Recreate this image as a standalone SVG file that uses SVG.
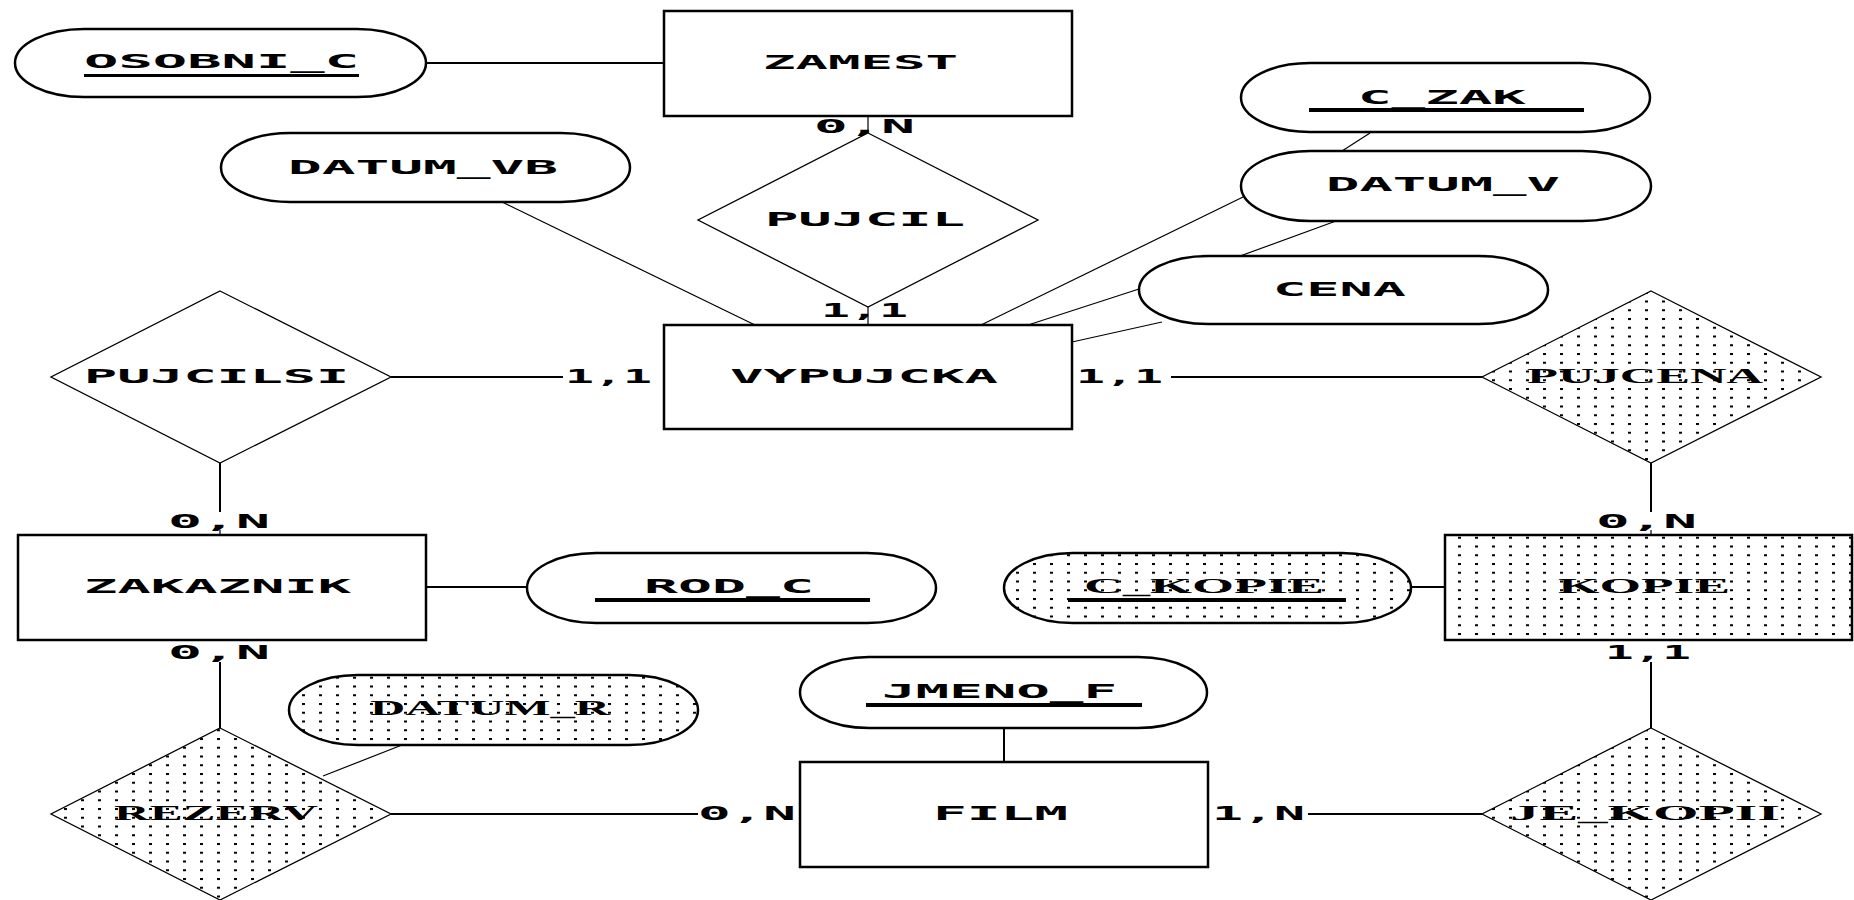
<svg xmlns="http://www.w3.org/2000/svg" width="1854" height="900" viewBox="0 0 1854 900">
<defs>
<pattern id="dots" x="13" y="3" width="17" height="8.75" patternUnits="userSpaceOnUse"><rect x="0" y="0" width="3" height="2" fill="#000"/></pattern>
<style>
.ent{fill:#fff;stroke:#000;stroke-width:2.5}
.entd{fill:url(#dots);stroke:#000;stroke-width:2.5}
.rel{fill:#fff;stroke:#000;stroke-width:1.3}
.reld{fill:url(#dots);stroke:#000;stroke-width:1.3}
.t{font-family:"DejaVu Sans Mono",monospace;font-weight:bold;font-size:20px;fill:#000}
.s{font-family:"Liberation Serif",serif;font-weight:bold;font-size:21px;fill:#000}
.ln{stroke:#000;stroke-width:2;fill:none}
.th{stroke:#000;stroke-width:1.2;fill:none}
.ul{fill:#000}
</style>
</defs>
<rect width="1854" height="900" fill="#fff"/>
<g id="connectors">
<line class="ln" x1="426" y1="63" x2="664" y2="63"/>
<line class="th" x1="868" y1="116" x2="868" y2="133"/>
<line class="th" x1="868" y1="307" x2="868" y2="325"/>
<line class="th" x1="502" y1="202" x2="755" y2="325"/>
<line class="th" x1="1370" y1="133" x2="1342" y2="151"/>
<line class="th" x1="1243" y1="197" x2="981" y2="325"/>
<line class="th" x1="1336" y1="221" x2="1240" y2="256"/>
<line class="th" x1="1139" y1="289" x2="1028" y2="325"/>
<line class="th" x1="1162" y1="322" x2="1072" y2="342"/>
<line class="ln" x1="391" y1="377" x2="563" y2="377"/>
<line class="ln" x1="1171" y1="377" x2="1482" y2="377"/>
<line class="ln" x1="220" y1="463" x2="220" y2="512"/>
<line class="th" x1="220" y1="530" x2="220" y2="535"/>
<line class="ln" x1="1651" y1="463" x2="1651" y2="512"/>
<line class="th" x1="1651" y1="530" x2="1651" y2="535"/>
<line class="ln" x1="426" y1="587" x2="527" y2="587"/>
<line class="ln" x1="1411" y1="587" x2="1445" y2="587"/>
<line class="ln" x1="220" y1="662" x2="220" y2="728"/>
<line class="ln" x1="1651" y1="662" x2="1651" y2="728"/>
<line class="th" x1="402" y1="745" x2="323" y2="776"/>
<line class="ln" x1="391" y1="814" x2="698" y2="814"/>
<line class="ln" x1="1004" y1="728" x2="1004" y2="762"/>
<line class="ln" x1="1308" y1="814" x2="1482" y2="814"/>
</g>
<g id="osobni_c">
<rect class="ent" x="15" y="29" width="411" height="68" rx="69" ry="34"/>
<text class="t" x="84" y="68" textLength="275" lengthAdjust="spacingAndGlyphs">OSOBNI_C</text>
<rect class="ul" x="84" y="74" width="275" height="3"/>
</g>
<g id="zamest">
<rect class="ent" x="664" y="11" width="408" height="105"/>
<text class="t" x="763" y="69" textLength="195" lengthAdjust="spacingAndGlyphs">ZAMEST</text>
<text class="t" x="814" y="133" textLength="101" lengthAdjust="spacingAndGlyphs">0,N</text>
</g>
<g id="datum_vb">
<rect class="ent" x="221" y="133" width="409" height="69" rx="69" ry="34.5"/>
<text class="t" x="288" y="174" textLength="270" lengthAdjust="spacingAndGlyphs">DATUM_VB</text>
</g>
<g id="pujcil">
<polygon class="rel" points="868,133 1038,220 868,307 698,220"/>
<text class="t" x="765" y="226" textLength="200" lengthAdjust="spacingAndGlyphs">PUJCIL</text>
</g>
<g id="c_zak">
<rect class="ent" x="1241" y="63" width="409" height="69" rx="69" ry="34.5"/>
<text class="t" x="1358" y="104" textLength="168" lengthAdjust="spacingAndGlyphs">C_ZAK</text>
<rect class="ul" x="1309" y="108" width="275" height="4"/>
</g>
<g id="datum_v">
<rect class="ent" x="1241" y="151" width="410" height="70" rx="69" ry="35"/>
<text class="t" x="1326" y="191" textLength="234" lengthAdjust="spacingAndGlyphs">DATUM_V</text>
</g>
<g id="cena">
<rect class="ent" x="1139" y="256" width="409" height="68" rx="69" ry="34"/>
<text class="t" x="1273" y="296" textLength="133" lengthAdjust="spacingAndGlyphs">CENA</text>
</g>
<g id="vypujcka">
<rect class="ent" x="664" y="325" width="408" height="104"/>
<text class="t" x="730" y="383" textLength="268" lengthAdjust="spacingAndGlyphs">VYPUJCKA</text>
<text class="t" x="821" y="317" textLength="87" lengthAdjust="spacingAndGlyphs">1,1</text>
<text class="t" x="565" y="383" textLength="87" lengthAdjust="spacingAndGlyphs">1,1</text>
<text class="t" x="1076" y="383" textLength="87" lengthAdjust="spacingAndGlyphs">1,1</text>
</g>
<g id="pujcilsi">
<polygon class="rel" points="220,291 391,377 220,463 51,377"/>
<text class="t" x="84" y="383" textLength="265" lengthAdjust="spacingAndGlyphs">PUJCILSI</text>
</g>
<g id="pujcena">
<polygon class="reld" points="1651,291 1821,377 1651,463 1482,377"/>
<text class="s" x="1527" y="383" textLength="236" lengthAdjust="spacingAndGlyphs">PUJCENA</text>
</g>
<g id="zakaznik">
<rect class="ent" x="18" y="535" width="408" height="105"/>
<text class="t" x="84" y="593" textLength="267" lengthAdjust="spacingAndGlyphs">ZAKAZNIK</text>
<text class="t" x="168" y="528" textLength="102" lengthAdjust="spacingAndGlyphs">0,N</text>
<text class="t" x="168" y="659" textLength="102" lengthAdjust="spacingAndGlyphs">0,N</text>
</g>
<g id="rod_c">
<rect class="ent" x="527" y="553" width="409" height="70" rx="69" ry="35"/>
<text class="t" x="644" y="593" textLength="170" lengthAdjust="spacingAndGlyphs">ROD_C</text>
<rect class="ul" x="595" y="598" width="275" height="4"/>
</g>
<g id="c_kopie">
<rect class="entd" x="1004" y="553" width="407" height="70" rx="69" ry="35"/>
<text class="s" x="1084" y="593" textLength="240" lengthAdjust="spacingAndGlyphs">C_KOPIE</text>
<rect class="ul" x="1068" y="598" width="278" height="4"/>
</g>
<g id="kopie">
<rect class="entd" x="1445" y="535" width="407" height="105"/>
<text class="s" x="1558" y="593" textLength="172" lengthAdjust="spacingAndGlyphs">KOPIE</text>
<text class="t" x="1596" y="528" textLength="101" lengthAdjust="spacingAndGlyphs">0,N</text>
<text class="t" x="1605" y="659" textLength="86" lengthAdjust="spacingAndGlyphs">1,1</text>
</g>
<g id="datum_r">
<rect class="entd" x="289" y="675" width="409" height="70" rx="69" ry="35"/>
<text class="s" x="370" y="715" textLength="240" lengthAdjust="spacingAndGlyphs">DATUM_R</text>
</g>
<g id="rezerv">
<polygon class="reld" points="220,728 391,814 220,900 51,814"/>
<text class="s" x="114" y="820" textLength="204" lengthAdjust="spacingAndGlyphs">REZERV</text>
</g>
<g id="jmeno_f">
<rect class="ent" x="800" y="657" width="407" height="71" rx="69" ry="35.5"/>
<text class="t" x="882" y="698" textLength="235" lengthAdjust="spacingAndGlyphs">JMENO_F</text>
<rect class="ul" x="866" y="703" width="276" height="4"/>
</g>
<g id="film">
<rect class="ent" x="800" y="762" width="408" height="105"/>
<text class="t" x="933" y="820" textLength="135" lengthAdjust="spacingAndGlyphs">FILM</text>
<text class="t" x="698" y="820" textLength="98" lengthAdjust="spacingAndGlyphs">0,N</text>
<text class="t" x="1212" y="820" textLength="93" lengthAdjust="spacingAndGlyphs">1,N</text>
</g>
<g id="je_kopii">
<polygon class="reld" points="1651,728 1821,814 1651,900 1482,814"/>
<text class="s" x="1510" y="820" textLength="270" lengthAdjust="spacingAndGlyphs">JE_KOPII</text>
</g>
</svg>
